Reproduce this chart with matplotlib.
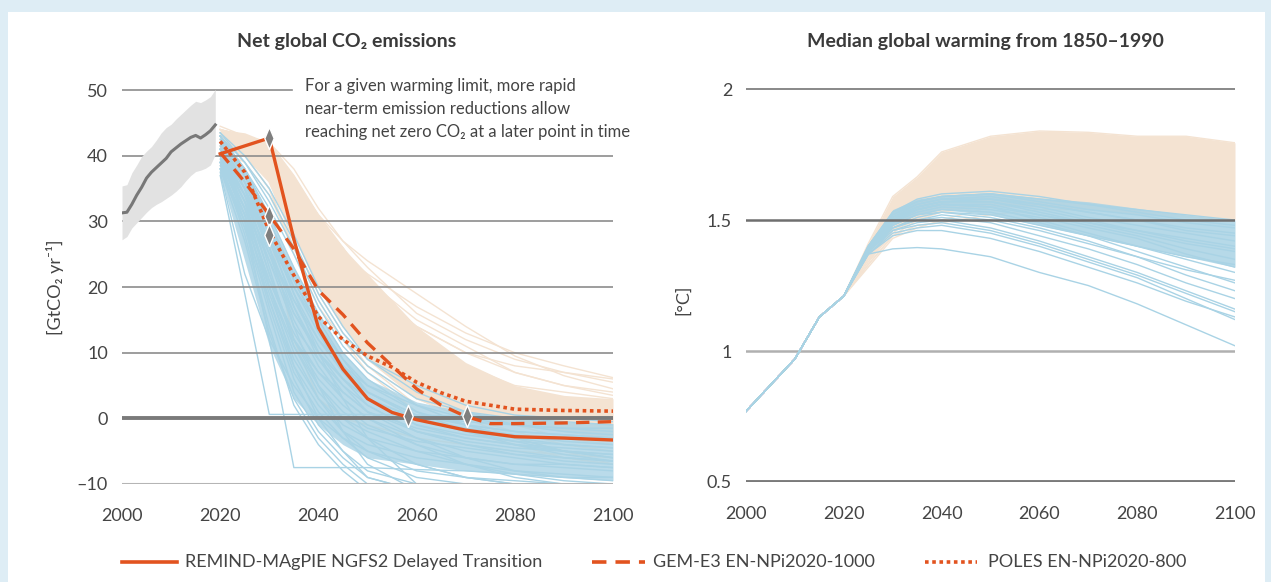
import numpy as np
import matplotlib
matplotlib.use('Agg')
import matplotlib.pyplot as plt
from matplotlib.lines import Line2D
from matplotlib.patches import Rectangle

plt.rcParams['font.family'] = ['Lato', 'DejaVu Sans']
plt.rcParams['axes.unicode_minus'] = False

# ---------------- data ----------------
# historical net CO2 emissions (GtCO2/yr) with uncertainty band
hist_years = list(range(2000, 2020))
hist_co2 = [31.3, 31.4, 32.6, 34.0, 35.2, 36.6, 37.5, 38.2, 38.9, 39.6,
            40.6, 41.2, 41.8, 42.3, 42.8, 43.1, 42.7, 43.2, 43.8, 44.7]
hist_lo = [27.2, 27.7, 29.0, 29.8, 30.6, 31.4, 32.1, 32.6, 33.0, 33.5,
           34.0, 34.6, 35.3, 36.2, 37.0, 37.6, 37.8, 38.1, 38.6, 40.2]
hist_hi = [35.4, 35.6, 37.4, 38.6, 39.9, 40.7, 41.4, 42.4, 43.5, 44.3,
           44.8, 45.6, 46.3, 47.0, 47.7, 48.3, 48.1, 48.5, 49.0, 50.1]

# scenario emissions, sampled years
em_years = [2020, 2025, 2030, 2035, 2040, 2045, 2050, 2060, 2070, 2080, 2090, 2100]

# 1.5C pathways (blue)
em_blue = [
    [37, 19, 0.6, 0.6, 0.6, 0.6, 0.6, 0.5, 0.3, 0.2, 0.2, 0.2],
    [38, 30, 12, -7.5, -7.5, -7.5, -7.5, -7.8, -8, -8.5, -9, -9],
    [39, 28, 14, 2, -4, -8, -11, -12, -12, -12, -12, -12],
    [40, 32, 20, 10, 3, -2, -5, -8, -9, -9.5, -10, -10],
    [41, 35, 25, 15, 8, 3, 0, -3, -5, -6, -7, -7.5],
    [42, 37, 29, 20, 13, 7, 3, -1, -3, -4, -5, -5.5],
    [43, 38, 31, 23, 16, 10, 6, 1, -1, -2, -2.5, -3],
    [43.5, 39, 33, 26, 18, 12, 8, 3, 1, 0, -0.5, -1],
    [40, 33, 22, 12, 6, 2, -1, -4, -6, -7, -7.5, -8],
    [41, 34, 24, 14, 9, 5, 2, -2, -4, -5, -6, -6.5],
    [38, 29, 18, 8, 2, -2, -4, -6, -7, -8, -8.5, -9],
    [42, 36, 27, 18, 11, 6, 2, -2, -4, -5.5, -6.5, -7],
    [39, 31, 21, 13, 7, 4, 1, -2, -3.5, -4.5, -5, -5.5],
    [40, 34, 26, 17, 10, 5, 1, -3, -6, -8, -9, -9.5],
    [42, 35, 23, 11, 4, 0, -2, -5, -7, -9, -10, -11],
    [37.5, 22, 12, 5, 0, -3, -5, -7, -9, -10, -11, -11],
    [43, 37, 30, 22, 15, 9, 4, 0, -2, -3, -4, -4.5],
    [41, 36, 28, 19, 12, 8, 5, 2, 0, -1, -1.5, -2],
    [39, 32, 24, 16, 10, 6, 3, 0, -1.5, -2.5, -3.5, -4],
    [40, 30, 17, 6, -1, -5, -8, -10, -11, -11, -11, -11],
    [42, 38, 32, 25, 17, 11, 7, 2, -1, -3, -5, -6],
    [41, 35, 27, 20, 14, 9, 5, 1, -2, -4, -5.5, -6.5],
    [38.5, 30, 20, 11, 5, 1, -1.5, -3.5, -4.5, -5.5, -6, -6.5],
    [43, 39, 34, 27, 19, 13, 9, 5, 2, 0.5, 0, -0.5],
    [40.5, 33, 25, 18, 12, 7, 4, 0.5, -1, -2, -2.5, -3],
    [39.5, 31, 19, 9, 3, -1, -3, -5, -6, -7, -7, -7.5],
    [42.5, 37, 28, 17, 9, 4, 1, -1.5, -3, -4, -4.5, -5],
    [41.5, 34, 22, 12, 7, 3, 0, -4, -7, -8.5, -9.5, -10],
    [40, 31, 18, 7, 1, -3, -6, -9, -10, -11, -11, -11],
    [43, 38, 30, 21, 14, 8, 4, 0.5, -0.5, -1, -1.5, -1.5],
    [39, 29, 16, 4, -2, -6, -9, -11, -11, -11, -11, -11],
    [41, 36, 29, 21, 14, 8, 3, -1, -2.5, -3.5, -4, -4.5],
    [42, 35, 26, 16, 10, 6, 3, 0, -2, -3.5, -5, -6],
    [38, 27, 13, 3, -3, -7, -10, -11, -11, -11, -11, -11],
    [43.5, 40, 35, 28, 20, 14, 9, 4, 1, -1, -2, -2.5],
    [41, 33, 20, 8, 0, -5, -9, -11, -11, -11, -11, -11],
    [42, 36, 26, 14, 5, -2, -7, -11, -11, -11, -11, -11],
    [43, 38, 29, 19, 10, 3, -3, -10, -11, -11, -11, -11],
    [40.5, 32, 21, 12, 5, 0, -3, -7, -9, -10, -10.5, -11],
]
em_blue_lo = [37, 24, 11, 3, -1, -4, -6, -7, -8, -8.5, -9, -9.5]
em_blue_hi = [43, 38, 31, 23, 16, 10, 6, 2.5, 1, 0, -0.5, -0.8]

# 2C pathways (beige)
em_beige = [
    [43, 42, 41, 35, 29, 25, 22, 17, 13, 10, 8, 6.2],
    [44, 43, 42, 37, 31, 26, 20, 14, 10, 7, 5, 4],
    [42, 41, 38, 31, 24, 18, 14, 8, 4, 2, 1, 0.5],
    [43, 42, 40, 33, 26, 20, 15, 9, 5, 3, 2, 1.5],
    [41.5, 40, 36, 28, 21, 15, 11, 5, 2, 0, -1, -1.5],
    [44, 42.5, 41, 34, 28, 22, 17, 11, 7, 4, 3, 2.5],
    [42.5, 41, 37, 30, 23, 17, 12, 6, 3, 1, 0, -0.5],
    [43.5, 42, 39, 32, 25, 19, 13, 7, 2, -1, -3, -4],
    [42, 40.5, 38, 30, 22, 15, 9, 3, 0, -2, -4, -5],
    [44.5, 43, 41.5, 36, 30, 24, 19, 12, 8, 5, 4, 3],
    [43, 41, 36, 27, 19, 13, 8, 2, -1, -3, -5, -6],
    [42, 40, 35, 26, 18, 12, 7, 1, -2, -4, -6, -7],
    [43, 42, 40, 35, 30, 25, 20, 14, 10, 8, 7, 6],
    [41, 39, 34, 26, 20, 14, 10, 4, 1, -1, -2, -3],
    [44, 43, 40, 34, 27, 21, 16, 10, 6, 3, 1, 0],
    [42.5, 41.5, 39, 31, 24, 18, 14, 8, 5, 3, 2, 1],
    [43.5, 42, 38, 29, 21, 16, 12, 7, 4, 2, 1, 0.5],
    [42, 41, 37, 28, 20, 14, 10, 5, 3, 1.5, 0.5, 0],
    [43, 42, 39, 33, 27, 21, 16, 11, 7, 4.5, 3, 2],
    [41.5, 40, 35, 25, 17, 12, 8, 3, 0, -3, -5, -7],
    [44, 42, 38, 30, 23, 17, 13, 8, 5, 3, 2, 2],
    [42, 38, 28, 12, 3, 0, -1, -3, -4, -5, -5.5, -6],
    [43.5, 43, 42, 38, 32, 27, 23, 16, 12, 9, 7, 5.5],
    [44, 43, 41, 36, 30, 26, 21, 15, 11, 7, 5, 3.5],
    [43, 42.5, 41, 36, 31, 27, 24, 19, 14, 9.5, 6.5, 4.5],
]
em_beige_lo = [42, 40, 36, 28, 20, 14, 9, 3, 0.5, -1, -2, -3]
em_beige_hi = [44, 43.5, 42, 37, 31, 26, 22, 14, 8.5, 5, 3.5, 3]

# highlighted pathways
remind_years = [2020, 2030, 2035, 2040, 2045, 2050, 2055, 2060, 2070, 2080, 2090, 2100]
remind_co2 = [40.3, 42.7, 27.3, 13.8, 7.5, 3.0, 0.9, -0.2, -1.8, -2.8, -3.0, -3.3]
gem_years = [2020, 2025, 2030, 2035, 2040, 2045, 2050, 2055, 2060, 2065, 2070, 2075, 2080, 2090, 2100]
gem_co2 = [40.5, 36.0, 31.0, 25.8, 19.5, 15.8, 11.5, 8.0, 4.5, 2.0, 0.3, -0.8, -0.8, -0.7, -0.5]
poles_years = [2020, 2025, 2030, 2035, 2040, 2045, 2050, 2055, 2060, 2065, 2070, 2080, 2090, 2100]
poles_co2 = [42.2, 37.5, 28.5, 21.8, 15.5, 12.0, 9.5, 7.8, 5.5, 3.9, 2.6, 1.4, 1.2, 1.1]

# diamonds: 2030 levels and net-zero years
marker_years = [2030, 2030, 2030, 2058.2, 2070.2]
marker_co2 = [42.7, 30.8, 28.0, 0.3, 0.3]

# median warming (degC)
t_hist_years = [2000, 2005, 2010, 2015, 2020]
t_hist = [0.77, 0.87, 0.97, 1.13, 1.21]
t_years = [2025, 2030, 2035, 2040, 2050, 2060, 2070, 2080, 2090, 2100]
t_blue = [
    [1.37, 1.39, 1.395, 1.39, 1.36, 1.30, 1.25, 1.18, 1.10, 1.02],
    [1.40, 1.53, 1.57, 1.59, 1.60, 1.58, 1.56, 1.54, 1.52, 1.50],
    [1.40, 1.52, 1.56, 1.58, 1.59, 1.56, 1.53, 1.50, 1.47, 1.45],
    [1.39, 1.50, 1.55, 1.57, 1.57, 1.53, 1.49, 1.45, 1.41, 1.38],
    [1.39, 1.49, 1.54, 1.56, 1.55, 1.50, 1.45, 1.40, 1.35, 1.30],
    [1.38, 1.48, 1.52, 1.54, 1.53, 1.49, 1.44, 1.38, 1.32, 1.26],
    [1.38, 1.47, 1.50, 1.51, 1.49, 1.44, 1.39, 1.33, 1.26, 1.20],
    [1.38, 1.46, 1.49, 1.50, 1.47, 1.42, 1.36, 1.30, 1.23, 1.16],
    [1.37, 1.45, 1.47, 1.48, 1.45, 1.40, 1.34, 1.28, 1.20, 1.12],
    [1.39, 1.51, 1.56, 1.58, 1.58, 1.55, 1.51, 1.48, 1.45, 1.42],
    [1.40, 1.52, 1.57, 1.59, 1.60, 1.57, 1.54, 1.52, 1.49, 1.47],
    [1.39, 1.50, 1.54, 1.56, 1.56, 1.52, 1.48, 1.44, 1.39, 1.35],
    [1.38, 1.49, 1.53, 1.55, 1.54, 1.51, 1.47, 1.43, 1.37, 1.32],
    [1.40, 1.51, 1.55, 1.57, 1.58, 1.56, 1.53, 1.50, 1.46, 1.44],
    [1.38, 1.47, 1.51, 1.53, 1.51, 1.47, 1.42, 1.36, 1.29, 1.23],
    [1.39, 1.50, 1.55, 1.57, 1.57, 1.54, 1.50, 1.46, 1.42, 1.39],
    [1.37, 1.44, 1.46, 1.46, 1.43, 1.38, 1.32, 1.26, 1.19, 1.13],
    [1.38, 1.48, 1.52, 1.53, 1.52, 1.48, 1.44, 1.40, 1.36, 1.33],
    [1.39, 1.50, 1.54, 1.56, 1.55, 1.52, 1.49, 1.46, 1.43, 1.40],
    [1.40, 1.53, 1.58, 1.60, 1.61, 1.59, 1.56, 1.53, 1.50, 1.48],
    [1.37, 1.46, 1.48, 1.49, 1.46, 1.41, 1.35, 1.29, 1.22, 1.15],
    [1.38, 1.47, 1.50, 1.52, 1.50, 1.46, 1.41, 1.36, 1.31, 1.27],
]
t_blue_lo = [1.38, 1.48, 1.52, 1.54, 1.52, 1.48, 1.44, 1.40, 1.36, 1.32]
t_blue_hi = [1.41, 1.54, 1.58, 1.595, 1.605, 1.585, 1.57, 1.545, 1.52, 1.50]
t_beige = [
    [1.41, 1.59, 1.665, 1.76, 1.82, 1.84, 1.835, 1.82, 1.82, 1.795],
    [1.40, 1.57, 1.65, 1.74, 1.81, 1.82, 1.81, 1.80, 1.79, 1.78],
    [1.39, 1.55, 1.63, 1.71, 1.78, 1.79, 1.78, 1.76, 1.75, 1.73],
    [1.38, 1.53, 1.61, 1.68, 1.75, 1.76, 1.75, 1.73, 1.71, 1.69],
    [1.37, 1.51, 1.58, 1.65, 1.71, 1.72, 1.71, 1.69, 1.67, 1.65],
    [1.36, 1.49, 1.56, 1.62, 1.68, 1.69, 1.68, 1.66, 1.63, 1.61],
    [1.35, 1.47, 1.54, 1.60, 1.65, 1.66, 1.65, 1.63, 1.60, 1.58],
    [1.34, 1.45, 1.52, 1.57, 1.62, 1.63, 1.62, 1.60, 1.57, 1.55],
    [1.33, 1.44, 1.50, 1.54, 1.59, 1.60, 1.59, 1.57, 1.54, 1.52],
    [1.32, 1.43, 1.47, 1.50, 1.55, 1.57, 1.57, 1.55, 1.53, 1.51],
    [1.33, 1.44, 1.48, 1.49, 1.52, 1.54, 1.54, 1.53, 1.52, 1.50],
    [1.37, 1.52, 1.60, 1.67, 1.74, 1.75, 1.73, 1.72, 1.70, 1.68],
    [1.36, 1.50, 1.57, 1.63, 1.70, 1.71, 1.70, 1.69, 1.67, 1.64],
    [1.35, 1.48, 1.55, 1.61, 1.66, 1.68, 1.67, 1.64, 1.62, 1.59],
    [1.38, 1.54, 1.62, 1.70, 1.77, 1.78, 1.77, 1.75, 1.74, 1.72],
]
t_beige_lo = [1.34, 1.46, 1.50, 1.53, 1.55, 1.55, 1.54, 1.52, 1.51, 1.50]
t_beige_hi = [1.41, 1.59, 1.665, 1.76, 1.82, 1.84, 1.835, 1.82, 1.82, 1.795]

legend_labels = ['REMIND-MAgPIE NGFS2 Delayed Transition',
                 'GEM-E3 EN-NPi2020-1000', 'POLES EN-NPi2020-800']

# ---------------- style ----------------
BLUE = '#a9d3e5'
BEIGE = '#f4e3d2'
RED = '#e2531f'
TXT = '#444444'
diamond = [(0, -1), (0.42, 0), (0, 1), (-0.42, 0), (0, -1)]
W, H = 1271, 582

fig = plt.figure(figsize=(12.71, 5.82), dpi=100, facecolor='#deedf5')
fig.patches.append(Rectangle((8 / W, 0), 1257 / W, 570 / H,
                             transform=fig.transFigure, facecolor='white',
                             edgecolor='none', zorder=-10))

ax1 = fig.add_axes([122 / W, 98 / H, 491 / W, 407 / H])
ax2 = fig.add_axes([746 / W, 100 / H, 489 / W, 406 / H])

for ax in (ax1, ax2):
    ax.set_facecolor('none')
    for s in ax.spines.values():
        s.set_visible(False)
    ax.tick_params(length=0, labelsize=13, labelcolor=TXT)
    ax.tick_params(axis='x', pad=17)
    ax.tick_params(axis='y', pad=10)
    ax.set_xlim(2000, 2100)
    ax.set_xticks([2000, 2020, 2040, 2060, 2080, 2100])

# ---- left panel ----
ax1.set_ylim(-10, 52)
ax1.set_yticks([-10, 0, 10, 20, 30, 40, 50])
ax1.set_yticklabels(['\u201310', '0', '10', '20', '30', '40', '50'])

ax1.fill_between(em_years, em_beige_lo, em_beige_hi, color=BEIGE, lw=0, zorder=1)
for row in em_beige:
    ax1.plot(em_years, row, color=BEIGE, lw=1.0, zorder=1.5)
ax1.fill_between(em_years, em_blue_lo, em_blue_hi, color=BLUE, lw=0, alpha=0.8, zorder=2)
for row in em_blue:
    ax1.plot(em_years, row, color=BLUE, lw=1.0, zorder=2.5)

for v in [10, 20, 30, 40]:
    ax1.axhline(v, color='#8c8c8c', lw=1.2, zorder=3)
ax1.axhline(50, xmax=0.346, color='#8c8c8c', lw=1.2, zorder=3)
ax1.axhline(0, color='#7a7a7a', lw=2.8, zorder=3)
ax1.axhline(-10, color='#b5b5b5', lw=2.2, zorder=3)

ax1.fill_between(hist_years, hist_lo, hist_hi, color='#e2e2e2', lw=0, zorder=3.5)
ax1.plot(hist_years, hist_co2, color='#787878', lw=2.2, zorder=3.6)

ax1.plot(remind_years, remind_co2, color=RED, lw=2.4, zorder=5)
ax1.plot(gem_years, gem_co2, color=RED, lw=2.4, ls=(0, (4, 2.5)), zorder=5)
ax1.plot(poles_years, poles_co2, color=RED, lw=2.6, ls=(0, (1, 1)), zorder=5)
ax1.plot(marker_years, marker_co2, ls='none', marker=diamond, ms=16,
         mfc='#7f7f7f', mec='white', mew=1.0, zorder=6)

# ---- right panel ----
ax2.set_ylim(0.5, 2.05)
ax2.set_yticks([0.5, 1, 1.5, 2])
ax2.set_yticklabels(['0.5', '1', '1.5', '2'])

ax2.fill_between(t_years, t_beige_lo, t_beige_hi, color=BEIGE, lw=0, zorder=1)
for row in t_beige:
    ax2.plot(t_hist_years + t_years, t_hist + row, color=BEIGE, lw=1.0, zorder=1.5)
ax2.fill_between(t_years, t_blue_lo, t_blue_hi, color=BLUE, lw=0, alpha=0.85, zorder=2)
for row in t_blue:
    ax2.plot(t_hist_years + t_years, t_hist + row, color=BLUE, lw=1.0, zorder=2.5)

ax2.axhline(2, color='#7f7f7f', lw=1.3, zorder=3)
ax2.axhline(1.5, color='#6f6f6f', lw=1.8, zorder=3)
ax2.axhline(1, color='#b0b0b0', lw=1.8, zorder=0.5)
ax2.axhline(0.5, color='#7a7a7a', lw=2.8, zorder=3)

# ---- text ----
fig.text(347 / W, 1 - 42 / H, 'Net global CO\u2082 emissions', ha='center', va='center',
         fontsize=14, fontweight='bold', color='#3a3a3a')
fig.text(985 / W, 1 - 42 / H, 'Median global warming from 1850\u20131990', ha='center',
         va='center', fontsize=14, fontweight='bold', color='#3a3a3a')
fig.text(305 / W, 1 - 78 / H,
         'For a given warming limit, more rapid\nnear-term emission reductions allow\n'
         'reaching net zero CO\u2082 at a later point in time',
         ha='left', va='top', fontsize=12, color=TXT, linespacing=1.55)
fig.text(55 / W, 1 - 287 / H, '[GtCO\u2082 yr\u207b\u00b9]', rotation=90,
         ha='center', va='center', fontsize=13, color=TXT)
fig.text(683 / W, 1 - 300 / H, '[\u00b0C]', rotation=90,
         ha='center', va='center', fontsize=13, color=TXT)

# ---- legend, laid out along the bottom ----
leg_y = 1 - 562 / H
leg_styles = ['-', (0, (4, 2.5)), (0, (1, 1))]
leg_x = [(122, 177, 185), (592, 645, 653), (925, 977, 988)]
for (x0, x1, xt), style, label in zip(leg_x, leg_styles, legend_labels):
    fig.add_artist(Line2D([x0 / W, x1 / W], [leg_y, leg_y], transform=fig.transFigure,
                          color=RED, lw=2.6, ls=style))
    fig.text(xt / W, leg_y, label, ha='left', va='center', fontsize=13, color=TXT)

fig.savefig('out.png', dpi=100, facecolor=fig.get_facecolor())
